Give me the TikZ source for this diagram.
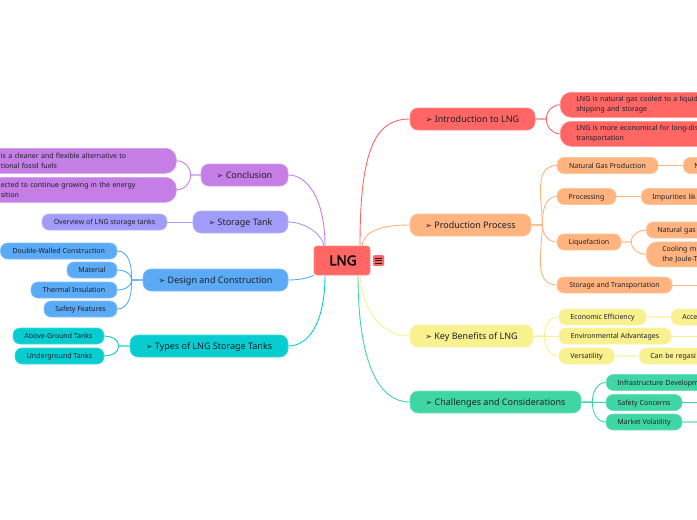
\documentclass[tikz,border=0pt]{standalone}
\usepackage{fontspec}
\setmainfont{Noto Sans}
\newfontfamily\dingfont{DejaVu Sans}
\newfontfamily\rootfont[FakeBold=2.5]{Noto Sans}
\usetikzlibrary{calc}
\definecolor{redc}{HTML}{FF6664}
\definecolor{orangec}{HTML}{FFB37E}
\definecolor{yellowc}{HTML}{F9F08E}
\definecolor{greenc}{HTML}{40D6A4}
\definecolor{purplec}{HTML}{C47EE6}
\definecolor{lilacc}{HTML}{A29CF9}
\definecolor{bluec}{HTML}{5AAAF5}
\definecolor{tealc}{HTML}{07CDD0}
\definecolor{inkc}{HTML}{1E1E28}
\newcommand{\lngtip}{{\dingfont\fontsize{8}{8}\selectfont ➢}\ }
\tikzset{
  topic/.style={fill=#1, draw=#1!75!white, line width=.6pt, rounded corners=8pt, inner sep=0pt,
    text=inkc, font=\fontsize{9}{11}\selectfont, minimum height=22pt, text height=6.6pt, text depth=0pt},
  kidbase/.style={fill=#1, draw=#1!75!white, line width=.6pt, rounded corners=7pt, inner sep=0pt,
    text=inkc, font=\fontsize{7}{9.5}\selectfont, minimum height=16pt},
  kid/.style={kidbase=#1, text height=5pt, text depth=0pt},
  cutkid/.style={kid=#1, anchor=west, align=left, text width=300pt, inner xsep=11pt},
  wrapkid/.style={kidbase=#1, anchor=west, align=left, rounded corners=11pt, minimum height=25pt},
  link/.style={#1, line width=.9pt},
  paleline/.style={#1!55!white, line width=1.4pt},
}
\begin{document}
\begin{tikzpicture}[x=1pt,y=-1pt]
\useasboundingbox (0,0) rectangle (697,520);
\clip (0,0) rectangle (697,520);

\node[fill=redc, draw=redc!75!white, line width=.6pt, rounded corners=3pt, minimum width=56pt, minimum height=29pt,
  inner sep=0pt, text height=9.5pt, text depth=0pt, font=\rootfont\fontsize{13.5}{14}\selectfont] (lng) at (342,260.5) {\hspace{2pt}LNG};
\node[fill=redc, rounded corners=1.5pt, minimum size=11pt, inner sep=0pt] (menu) at (378.5,260.5) {};
\foreach \dy in {-2.5,0,2.5}
  \draw[inkc, line width=.8pt] ([shift={(-3.2pt,\dy pt)}]menu.center) -- ([shift={(3.2pt,\dy pt)}]menu.center);

% right side
\node[topic=redc, minimum width=125pt] (intro) at (472.5,119) {\lngtip Introduction to LNG};
\node[wrapkid=redc, text width=300pt, inner xsep=16pt] (liquid) at (560,104.8) {LNG is natural gas cooled to a liquid\\shipping and storage};
\node[wrapkid=redc, text width=300pt, inner xsep=16pt] (cheap) at (560,133.8) {LNG is more economical for long-dis\\transportation};

\node[topic=orangec, minimum width=121pt] (prod) at (470.5,225) {\lngtip Production Process};
\node[kid=orangec, minimum width=101pt] (gas) at (607.5,165.5) {Natural Gas Production};
\node[kid=orangec, minimum width=59pt] (proc) at (586.5,196.5) {Processing};
\node[kid=orangec, minimum width=64pt] (liqf) at (589,242) {Liquefaction};
\node[kid=orangec, minimum width=115pt] (store) at (614.5,285) {Storage and Transportation};
\node[cutkid=orangec] (gasn) at (683,165.5) {N};
\node[cutkid=orangec] (impur) at (641,196.5) {Impurities lik};
\node[cutkid=orangec] (natg) at (646,230) {Natural gas};
\node[wrapkid=orangec, text width=300pt, inner xsep=16pt] (cool) at (646,254.3) {Cooling m\\the Joule-T};
\coordinate (storeend) at (700,285);

\node[topic=yellowc, minimum width=123pt] (bene) at (471.5,336) {\lngtip Key Benefits of LNG};
\node[kid=yellowc, minimum width=87pt] (econ) at (602.5,317) {Economic Efficiency};
\node[kid=yellowc, minimum width=112pt] (envi) at (615,336) {Environmental Advantages};
\node[kid=yellowc, minimum width=55pt] (vers) at (586.5,356) {Versatility};
\node[cutkid=yellowc] (accp) at (671,317) {Accep};
\node[cutkid=yellowc] (regas) at (639,356) {Can be regasi};
\coordinate (enviend) at (700,336);

\node[topic=greenc, minimum width=171pt] (chal) at (495.5,402) {\lngtip Challenges and Considerations};
\node[cutkid=greenc] (infra) at (606,382.5) {Infrastructure Developm};
\node[kid=greenc, minimum width=76pt] (safe) at (644,402.5) {Safety Concerns};
\node[kid=greenc, minimum width=76pt] (mark) at (644,422) {Market Volatility};
\coordinate (safeend) at (700,402.5);
\coordinate (markend) at (700,422);

% left side
\node[topic=purplec, minimum width=87pt] (concl) at (244.5,175) {\lngtip Conclusion};
\node[wrapkid=purplec, text width=145pt, inner xsep=30.5pt] (clean) at (-30,160.8) {is a cleaner and flexible alternative to\\tional fossil fuels};
\node[wrapkid=purplec, text width=145pt, inner xsep=30.5pt] (grow) at (-30,189.8) {ected to continue growing in the energy\\sition};

\node[topic=lilacc, minimum width=95pt] (tank) at (240.5,222) {\lngtip Storage Tank};
\node[kid=lilacc, minimum width=125pt] (over) at (104.5,222) {Overview of LNG storage tanks};

\node[topic=bluec, minimum width=145pt] (desi) at (215.5,280) {\lngtip Design and Construction};
\node[kid=bluec, minimum width=116.5pt] (dbl) at (58.75,251) {Double-Walled Construction};
\node[kid=bluec, minimum width=50pt] (matr) at (92,270) {Material};
\node[kid=bluec, minimum width=86pt] (therm) at (74,290) {Thermal Insulation};
\node[kid=bluec, minimum width=73pt] (sfty) at (80.5,309) {Safety Features};

\node[topic=tealc, minimum width=158pt] (types) at (209,346) {\lngtip Types of LNG Storage Tanks};
\node[kid=tealc, minimum width=91pt] (abov) at (58.5,336) {Above-Ground Tanks};
\node[kid=tealc, minimum width=89pt] (undr) at (59.5,356) {Underground Tanks};

% main branches
\draw[link=redc] ([xshift=18pt]lng.north) .. controls +(0,-95) and +(-35,0) .. (intro.west);
\draw[link=orangec] ([xshift=20pt]lng.north) .. controls +(2,-15) and +(-28,0) .. (prod.west);
\draw[link=yellowc] ([xshift=18pt]lng.south) .. controls +(2,35) and +(-28,0) .. (bene.west);
\draw[link=greenc] ([xshift=16pt]lng.south) .. controls +(0,85) and +(-32,0) .. (chal.west);
\draw[link=purplec] ([xshift=-17pt]lng.north) .. controls +(0,-45) and +(20,0) .. (concl.east);
\draw[link=lilacc] ([xshift=-18pt]lng.north) .. controls +(-3,-14) and +(14,0) .. (tank.east);
\draw[link=bluec] (lng.south west) .. controls +(-6,3) and +(10,0) .. (desi.east);
\draw[link=tealc] ([xshift=-17pt]lng.south) .. controls +(0,48) and +(20,0) .. (types.east);

% forks
\draw[link=redc] (intro.east) -- ++(11,0) to[out=90,in=180] (liquid.west);
\draw[link=redc] (intro.east) -- ++(11,0) to[out=-90,in=180] (cheap.west);
\draw[link=orangec] (prod.east) -- ++(11,0) to[out=90,in=180] (gas.west);
\draw[link=orangec] (prod.east) -- ++(11,0) to[out=90,in=180] (proc.west);
\draw[link=orangec] (prod.east) -- ++(11,0) to[out=-90,in=180] (liqf.west);
\draw[link=orangec] (prod.east) -- ++(11,0) to[out=-90,in=180] (store.west);
\draw[link=orangec] (gas) -- (gasn);
\draw[link=orangec] (proc) -- (impur);
\draw[link=orangec] (liqf.east) -- ++(10,0) to[out=90,in=180] (natg.west);
\draw[link=orangec] (liqf.east) -- ++(10,0) to[out=-90,in=180] (cool.west);
\draw[link=orangec] (store) -- (storeend);

\draw[link=yellowc] (bene.east) -- ++(11,0) to[out=90,in=180] (econ.west);
\draw[link=yellowc] (bene) -- (envi);
\draw[link=yellowc] (bene.east) -- ++(11,0) to[out=-90,in=180] (vers.west);
\draw[paleline=yellowc] (econ) -- (accp);
\draw[link=yellowc] (envi) -- (enviend);
\draw[paleline=yellowc] (vers) -- (regas);

\draw[link=greenc] (chal.east) -- ++(11,0) to[out=90,in=180] (infra.west);
\draw[link=greenc] (chal) -- (safe);
\draw[link=greenc] (chal.east) -- ++(11,0) to[out=-90,in=180] (mark.west);
\draw[link=greenc] (safe) -- (safeend);
\draw[paleline=greenc] (mark) -- (markend);

\draw[link=purplec] (concl.west) -- ++(-10,0) to[out=90,in=0] (clean.east);
\draw[link=purplec] (concl.west) -- ++(-10,0) to[out=-90,in=0] (grow.east);
\draw[link=lilacc] (tank) -- (over);
\draw[link=bluec] (desi.west) -- ++(-11,0) to[out=90,in=0] (dbl.east);
\draw[link=bluec] (desi.west) -- ++(-11,0) to[out=90,in=0] (matr.east);
\draw[link=bluec] (desi.west) -- ++(-11,0) to[out=-90,in=0] (therm.east);
\draw[link=bluec] (desi.west) -- ++(-11,0) to[out=-90,in=0] (sfty.east);
\draw[link=tealc] (types.west) -- ++(-11,0) to[out=90,in=0] (abov.east);
\draw[link=tealc] (types.west) -- ++(-11,0) to[out=-90,in=0] (undr.east);
\end{tikzpicture}
\end{document}
